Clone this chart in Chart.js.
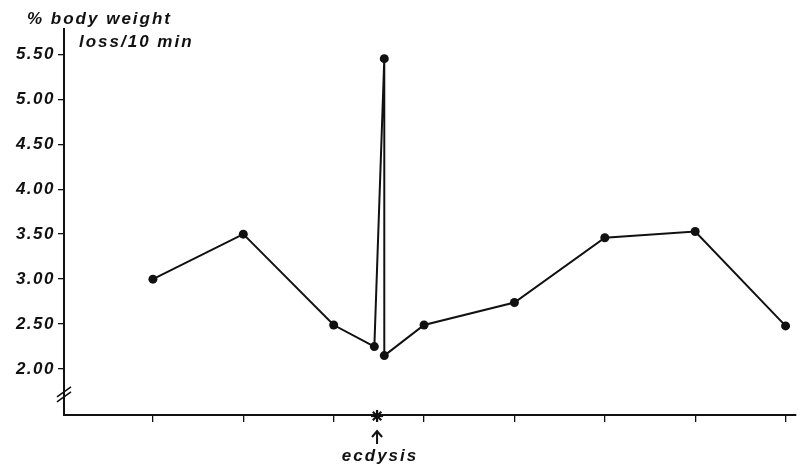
<!DOCTYPE html>
<html>
<head>
<meta charset="utf-8">
<script src="https://cdn.jsdelivr.net/npm/chart.js@4/dist/chart.umd.min.js"></script>
<style>
  html, body { margin: 0; padding: 0; background: #fff; }
  #wrap { width: 800px; height: 465px; }
</style>
</head>
<body>
<div id="wrap"><canvas id="grafico"></canvas></div>
<script>
// sampling times (tick units) and % body weight loss / 10 min
const tempos = [1, 2, 3, 3.45, 3.56, 3.56, 4, 5, 6, 7, 8];
const perdas = [3.00, 3.50, 2.49, 2.25, 5.45, 2.15, 2.49, 2.74, 3.46, 3.53, 2.48];
const ticksY = [2.0, 2.5, 3.0, 3.5, 4.0, 4.5, 5.0, 5.5];
const ticksX = [1, 2, 3, 4, 5, 6, 7, 8];
const ecdise = 3.48;
const tituloY = ['% body weight', 'loss/10 min'];

const tinta = '#111';
const fonte = 'italic bold 17px "Liberation Sans"';

const extras = {
    id: 'extras',
    beforeDraw(chart) {
        chart.ctx.letterSpacing = '1.5px';
    },
    afterDraw(chart) {
        const ctx = chart.ctx;
        const x = chart.scales.x, y = chart.scales.y;
        ctx.save();
        ctx.strokeStyle = tinta;
        ctx.fillStyle = tinta;

        // quebra do eixo
        const yb = y.getPixelForValue(1.72);
        const xb = y.right;
        ctx.lineWidth = 1.6;
        [-2.5, 2.5].forEach((d) => {
            ctx.beginPath();
            ctx.moveTo(xb - 7, yb + d + 5);
            ctx.lineTo(xb + 7, yb + d - 5);
            ctx.stroke();
        });

        // titulo do eixo y
        ctx.letterSpacing = '2px';
        ctx.textBaseline = 'alphabetic';
        ctx.textAlign = 'left';
        ctx.font = fonte;
        ctx.fillText(tituloY[0], 27, 24);
        ctx.fillText(tituloY[1], 79, 47);

        // ecdysis
        const xe = x.getPixelForValue(ecdise);
        const ye = x.top;
        ctx.lineWidth = 2.2;
        for (let i = 0; i < 4; i++) {
            const a = i * Math.PI / 4;
            ctx.beginPath();
            ctx.moveTo(xe - 6 * Math.cos(a), ye + 1 - 6 * Math.sin(a));
            ctx.lineTo(xe + 6 * Math.cos(a), ye + 1 + 6 * Math.sin(a));
            ctx.stroke();
        }
        ctx.lineWidth = 2;
        ctx.beginPath();
        ctx.moveTo(xe, ye + 16);
        ctx.lineTo(xe, ye + 29);
        ctx.moveTo(xe - 5, ye + 22);
        ctx.lineTo(xe, ye + 16);
        ctx.lineTo(xe + 5, ye + 22);
        ctx.stroke();
        ctx.letterSpacing = '2px';
        ctx.textAlign = 'center';
        ctx.font = fonte;
        ctx.fillText('ecdysis', xe + 3, ye + 46);
        ctx.restore();
    }
};

const config = {
    type: 'line',
    data: {
        datasets: [{
            data: tempos.map((t, i) => ({ x: t, y: perdas[i] })),
            borderColor: tinta,
            backgroundColor: tinta,
            borderWidth: 2,
            pointRadius: 4.5,
            pointBorderWidth: 0,
            tension: 0
        }]
    },
    options: {
        responsive: false,
        animation: false,
        layout: { padding: { top: 29, right: 0, left: 0, bottom: 0 } },
        plugins: { legend: { display: false }, tooltip: { enabled: false } },
        scales: {
            x: {
                type: 'linear',
                min: 0.016,
                max: 8.11,
                afterBuildTicks: (s) => { s.ticks = ticksX.map((v) => ({ value: v })); },
                afterFit: (s) => { s.height = 50; },
                ticks: { display: false },
                grid: { drawOnChartArea: false, tickLength: 7, color: tinta, lineWidth: 1.3 },
                border: { color: tinta, width: 2 }
            },
            y: {
                min: 1.49,
                max: 5.78,
                afterBuildTicks: (s) => { s.ticks = ticksY.map((v) => ({ value: v })); },
                afterFit: (s) => { s.width = 64; },
                ticks: {
                    color: tinta,
                    padding: 3,
                    font: { family: '"Liberation Sans"', size: 17, style: 'italic', weight: 'bold' },
                    callback: (v) => v.toFixed(2)
                },
                grid: { drawOnChartArea: false, tickLength: 6, color: tinta, lineWidth: 1.3 },
                border: { color: tinta, width: 2 }
            }
        }
    },
    plugins: [extras]
};

const canvas = document.getElementById('grafico');
canvas.width = 800;
canvas.height = 465;
const grafico = new Chart(canvas, config);
</script>
</body>
</html>
